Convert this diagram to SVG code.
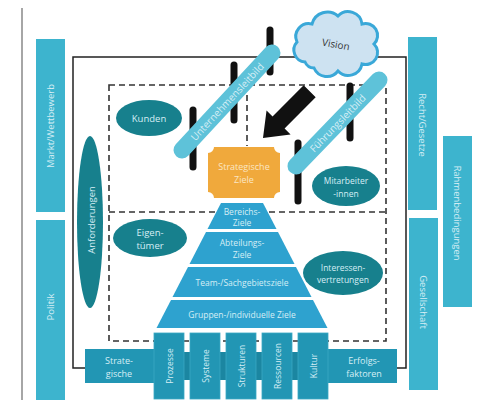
<svg xmlns="http://www.w3.org/2000/svg" width="480" height="409" viewBox="0 0 480 409">
<style>
.t{font-family:"Open Sans","Liberation Sans",sans-serif;text-anchor:middle;dominant-baseline:central}
.lt{fill:#d6eef5;font-size:8.5px}
.bt{font-size:9.5px}
.bar{fill:#3db4ce}
.ell{fill:#17808d}
.pyr{fill:#2ea2cf}
.box{fill:#2296b4}
.post{stroke:#111;stroke-width:7;stroke-linecap:round}
.lb{stroke:#5ec2d9;stroke-width:17;stroke-linecap:round}
.dash{fill:none;stroke:#333;stroke-width:1.6;stroke-dasharray:6 4}
</style>
<rect width="480" height="409" fill="#fff"/>
<line x1="22" y1="8" x2="22" y2="400" stroke="#888" stroke-width="1.5"/>

<g id="connectors">
<path d="M85 368 H73 V57 H406 V368 H397" fill="none" stroke="#222" stroke-width="1.5"/>
<rect class="dash" x="109" y="85" width="277" height="256"/>
<line class="dash" x1="109" y1="212" x2="386" y2="212"/>
<line class="dash" x1="247" y1="85" x2="247" y2="146"/>
</g>

<g id="markt"><rect class="bar" x="36" y="39" width="29" height="173"/><text class="t lt bt" transform="translate(50,126) rotate(-90)">Markt/Wettbewerb</text></g>
<g id="politik"><rect class="bar" x="36" y="220" width="29" height="180"/><text class="t lt bt" transform="translate(50,307) rotate(-90)">Politik</text></g>
<g id="recht"><rect class="bar" x="408" y="37" width="29" height="173"/><text class="t lt bt" transform="translate(422,125) rotate(90)">Recht/Gesetze</text></g>
<g id="gesellschaft"><rect class="bar" x="409" y="218" width="29" height="172"/><text class="t lt bt" transform="translate(423,302) rotate(90)">Gesellschaft</text></g>
<g id="rahmen"><rect class="bar" x="443" y="136" width="29" height="171"/><text class="t lt bt" transform="translate(457,213) rotate(90)">Rahmenbedingungen</text></g>

<g id="anforderungen"><ellipse class="ell" cx="90" cy="222" rx="13" ry="86"/><text class="t lt" transform="translate(91,220) rotate(-90)" style="font-size:9.5px">Anforderungen</text></g>
<g id="kunden"><ellipse class="ell" cx="149" cy="118" rx="33" ry="18"/><text class="t lt" x="149" y="118" style="font-size:9.5px">Kunden</text></g>
<g id="eigentuemer"><ellipse class="ell" cx="150" cy="238" rx="37" ry="19"/><text class="t lt" x="150" y="232" style="font-size:9.5px">Eigen-</text><text class="t lt" x="150" y="245" style="font-size:9.5px">tümer</text></g>
<g id="mitarbeiter"><ellipse class="ell" cx="346" cy="186" rx="34" ry="20"/><text class="t lt" x="346" y="180">Mitarbeiter</text><text class="t lt" x="346" y="193">-innen</text></g>
<g id="interessen"><ellipse class="ell" cx="343" cy="273" rx="40" ry="22"/><text class="t lt" x="343" y="267">Interessen-</text><text class="t lt" x="343" y="279">vertretungen</text></g>

<g id="posts">
<line class="post" x1="193" y1="110" x2="193" y2="167"/>
<line class="post" x1="234" y1="65" x2="234" y2="120"/>
<line class="post" x1="270" y1="30" x2="270" y2="72"/>
<line class="post" x1="350" y1="86" x2="350" y2="138"/>
<line class="post" x1="298" y1="143" x2="298" y2="201"/>
</g>

<g id="unternehmensleitbild"><line class="lb" x1="182" y1="150" x2="272" y2="53"/><text class="t lt" transform="translate(227,101.5) rotate(-47)" style="font-size:10px">Unternehmensleitbild</text></g>
<g id="fuehrungsleitbild"><line class="lb" x1="296" y1="166" x2="379" y2="80"/><text class="t lt" transform="translate(337.5,123) rotate(-46)" style="font-size:10px">Führungsleitbild</text></g>

<g id="vision">
<path d="M305 62 A12 12 0 0 1 297 42 A13 13 0 0 1 312 24 A16 16 0 0 1 338 16 A14 14 0 0 1 362 24 A12 12 0 0 1 374 44 A12 12 0 0 1 362 64 A14 14 0 0 1 338 71 A14 14 0 0 1 314 68 A10 10 0 0 1 305 62 Z" fill="#cde2f1" stroke="#3aa8d8" stroke-width="3"/>
<text class="t" transform="translate(336,44) rotate(10)" fill="#333" font-size="10">Vision</text>
</g>

<g id="arrow"><polygon transform="translate(263,138) rotate(135)" points="0,0 -22,-17 -22,-8.5 -66,-8.5 -66,8.5 -22,8.5 -22,17" fill="#111"/></g>

<g id="strategische-ziele">
<path d="M214 147 H274 A6 6 0 0 0 280 153 V192 A6 6 0 0 0 274 198 H214 A6 6 0 0 0 208 192 V153 A6 6 0 0 0 214 147 Z" fill="#f0a93c"/>
<text class="t" x="244" y="166" fill="#fbe6c4" font-size="9">Strategische</text>
<text class="t" x="244" y="179" fill="#fbe6c4" font-size="9">Ziele</text>
</g>

<g id="pyramide">
<polygon class="pyr" points="221,203 263,203 276.5,229 207.5,229"/>
<polygon class="pyr" points="206,232 278,232 294.5,264 189.5,264"/>
<polygon class="pyr" points="188,267 296,267 311.5,297 172.5,297"/>
<polygon class="pyr" points="171,300 313,300 327.5,328 156.5,328"/>
<text class="t lt" x="242" y="211">Bereichs-</text>
<text class="t lt" x="242" y="222">Ziele</text>
<text class="t lt" x="242" y="242">Abteilungs-</text>
<text class="t lt" x="242" y="254">Ziele</text>
<text class="t lt" x="242" y="282">Team-/Sachgebietsziele</text>
<text class="t lt" x="242" y="314">Gruppen-/individuelle Ziele</text>
</g>

<g id="erfolgsfaktoren">
<rect x="154" y="352" width="174" height="28" fill="#1b86a1"/>
<rect class="box" x="85" y="349" width="69" height="34"/>
<rect class="box" x="328" y="349" width="69" height="34"/>
<text class="t lt" x="119" y="360" style="font-size:9px">Strate-</text>
<text class="t lt" x="119" y="373" style="font-size:9px">gische</text>
<text class="t lt" x="364" y="360" style="font-size:9px">Erfolgs-</text>
<text class="t lt" x="364" y="373" style="font-size:9px">faktoren</text>
</g>
<g id="prozesse"><rect class="box" x="154" y="333" width="30" height="66" stroke="#3aa9c4" stroke-width="0.8"/><text class="t lt" transform="translate(169,366) rotate(-90)">Prozesse</text></g>
<g id="systeme"><rect class="box" x="190" y="333" width="30" height="66" stroke="#3aa9c4" stroke-width="0.8"/><text class="t lt" transform="translate(205,366) rotate(-90)">Systeme</text></g>
<g id="strukturen"><rect class="box" x="226" y="333" width="30" height="66" stroke="#3aa9c4" stroke-width="0.8"/><text class="t lt" transform="translate(241,366) rotate(-90)">Strukturen</text></g>
<g id="ressourcen"><rect class="box" x="262" y="333" width="30" height="66" stroke="#3aa9c4" stroke-width="0.8"/><text class="t lt" transform="translate(277,366) rotate(-90)">Ressourcen</text></g>
<g id="kultur"><rect class="box" x="298" y="333" width="30" height="66" stroke="#3aa9c4" stroke-width="0.8"/><text class="t lt" transform="translate(313,366) rotate(-90)">Kultur</text></g>
</svg>
